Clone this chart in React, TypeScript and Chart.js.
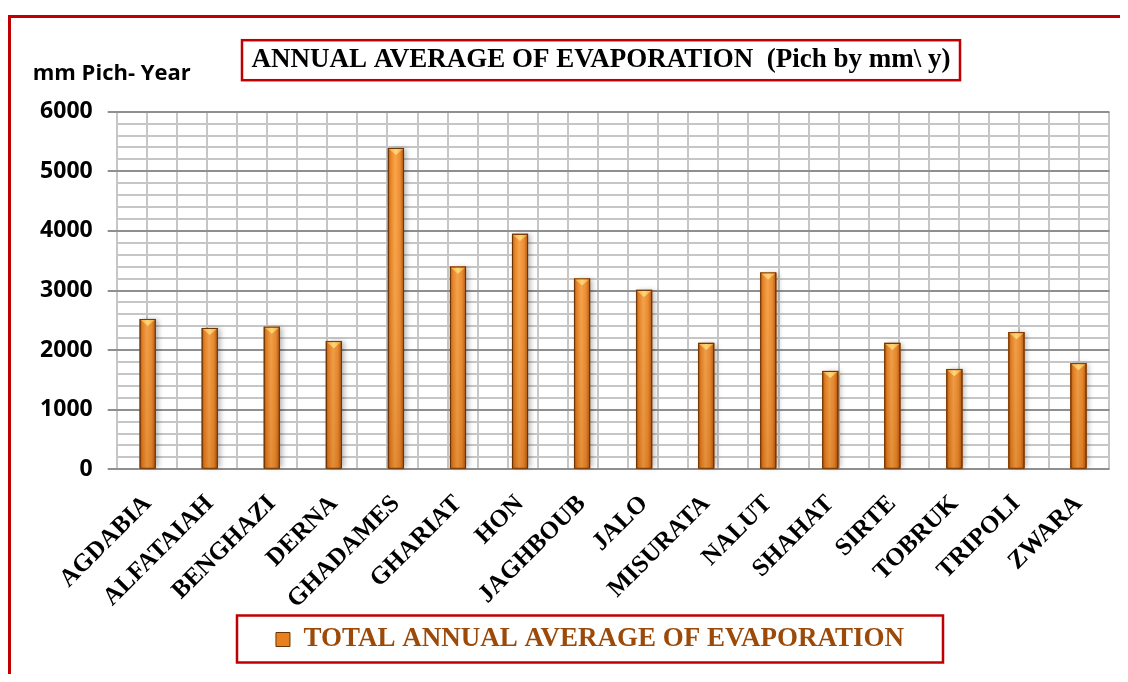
import React, { useEffect, useRef } from "react";
import { Chart, registerables } from "chart.js";

Chart.register(...registerables);

const categories = [
  "AGDABIA", "ALFATAIAH", "BENGHAZI", "DERNA", "GHADAMES", "GHARIAT", "HON", "JAGHBOUB",
  "JALO", "MISURATA", "NALUT", "SHAHAT", "SIRTE", "TOBRUK", "TRIPOLI", "ZWARA",
];
const evaporation = [2520, 2370, 2390, 2150, 5390, 3400, 3950, 3200, 3010, 2120, 3300, 1650, 2120, 1680, 2300, 1780];
const yMajorTicks = [0, 1000, 2000, 3000, 4000, 5000, 6000];
const yMinorStep = 200;
const seriesLabel = "TOTAL ANNUAL AVERAGE OF EVAPORATION";
const chartTitle = "ANNUAL AVERAGE OF EVAPORATION  (Pich by mm\\ y)";
const yAxisTitle = "mm Pich- Year";

const RED = "#c00000";

const decorPlugin = {
  id: "decor",
  afterLayout(chart: any) {
    const t = chart.titleBlock;
    if (t) { t.left += 38.5; t.right += 38.5; }
    const l = chart.legend;
    if (l) { l.left += 27.5; l.right += 27.5; }
  },
  afterDatasetsDraw(chart: any) {
    const ctx = chart.ctx;
    const area = chart.chartArea;
    const meta = chart.getDatasetMeta(0);
    meta.data.forEach((bar: any) => {
      const { x, y, base, width } = bar.getProps(["x", "y", "base", "width"], true);
      const l = x - width / 2;
      const r = x + width / 2;
      const h = base - y;
      ctx.save();
      ctx.shadowColor = "rgba(0,0,0,0.28)";
      ctx.shadowBlur = 5;
      ctx.shadowOffsetX = 3;
      ctx.fillStyle = "#e07a1c";
      ctx.fillRect(l, y, width, h);
      ctx.restore();
      const g = ctx.createLinearGradient(l, 0, r, 0);
      g.addColorStop(0, "#b0550d");
      g.addColorStop(0.18, "#ea821f");
      g.addColorStop(0.45, "#f9a447");
      g.addColorStop(0.75, "#ef8b2a");
      g.addColorStop(1, "#a9520d");
      ctx.fillStyle = g;
      ctx.fillRect(l, y, width, h);
      const v = ctx.createLinearGradient(0, area.top, 0, area.bottom);
      v.addColorStop(0, "rgba(255,255,255,0)");
      v.addColorStop(1, "rgba(120,45,0,0.18)");
      ctx.fillStyle = v;
      ctx.fillRect(l, y, width, h);
      ctx.strokeStyle = "#6a3306";
      ctx.lineWidth = 1;
      ctx.strokeRect(l + 0.5, y + 0.5, width - 1, h - 0.5);
      const tg = ctx.createLinearGradient(l, 0, r, 0);
      tg.addColorStop(0, "#f3a236");
      tg.addColorStop(0.5, "#fdd77a");
      tg.addColorStop(1, "#f0a033");
      ctx.fillStyle = tg;
      ctx.beginPath();
      ctx.moveTo(l + 1, y + 1);
      ctx.lineTo(r - 1, y + 1);
      ctx.lineTo(x, y + 7);
      ctx.closePath();
      ctx.fill();
    });
  },
  afterDraw(chart: any) {
    const ctx = chart.ctx;
    const area = chart.chartArea;
    ctx.save();
    ctx.font = "bold 22px 'Open Sans'";
    ctx.fillStyle = "#000";
    ctx.textAlign = "left";
    ctx.textBaseline = "middle";
    ctx.fillText(yAxisTitle, area.left - 84, area.top - 38);
    ctx.strokeStyle = RED;
    ctx.lineWidth = 2.5;
    const t = chart.titleBlock;
    if (t) {
      const cx = (t.left + t.right) / 2;
      const cy = t.top + 26 + 16.2;
      ctx.strokeRect(cx - 359, cy - 20, 718, 40);
    }
    const l = chart.legend;
    if (l) {
      const cx = (l.left + l.right) / 2;
      const cy = l.top + 23.5;
      ctx.strokeRect(cx - 353, cy - 24, 706, 47);
    }
    ctx.restore();
  },
};

export default function App() {
  const ref = useRef<HTMLCanvasElement>(null);
  useEffect(() => {
    if (!ref.current) return;
    const chart = new Chart(ref.current, {
      type: "bar",
      data: {
        labels: categories,
        datasets: [
          {
            label: seriesLabel,
            data: evaporation,
            backgroundColor: "#e8801f",
            borderColor: "#6a3306",
            borderWidth: 1,
            barThickness: 16,
            xAxisID: "x",
            yAxisID: "y",
          },
        ],
      },
      options: {
        animation: false,
        responsive: false,
        layout: { padding: { top: 0, left: 0, right: 6, bottom: 11 } },
        plugins: {
          title: {
            display: true,
            text: chartTitle,
            color: "#000",
            font: { family: "'Liberation Serif'", weight: "bold", size: 27, lineHeight: 1.2 },
            padding: { top: 26, bottom: 35.3 },
          },
          legend: {
            display: true,
            position: "bottom",
            labels: {
              color: "#9c4a09",
              font: { family: "'Liberation Serif'", weight: "bold", size: 27 },
              boxWidth: 14,
              boxHeight: 14,
              padding: 10,
            },
          },
          tooltip: { enabled: false },
        },
        scales: {
          x: {
            type: "category",
            position: "bottom",
            offset: true,
            grid: { display: false, drawTicks: false },
            border: { display: false },
            ticks: {
              autoSkip: false,
              minRotation: 45,
              maxRotation: 45,
              padding: 20,
              color: "#000",
              font: { family: "'Liberation Serif'", weight: "bold", size: 25 },
            },
            afterFit: (s: any) => { s.height = 146.7; },
          },
          xg: {
            type: "linear",
            position: "top",
            min: 0,
            max: categories.length * 2,
            ticks: { display: false, stepSize: 1, maxTicksLimit: 100 },
            grid: { color: "#c6c6c6", lineWidth: 2, drawTicks: false },
            border: { display: false },
          },
          y: {
            type: "linear",
            min: yMajorTicks[0],
            max: yMajorTicks[yMajorTicks.length - 1],
            ticks: {
              stepSize: yMinorStep,
              maxTicksLimit: 100,
              autoSkip: false,
              padding: 15,
              color: "#000",
              font: { family: "'Open Sans'", weight: "bold", size: 23 },
              callback: (v: any) => (yMajorTicks.includes(Number(v)) ? String(v) : ""),
            },
            grid: {
              color: (c: any) => (c.tick && yMajorTicks.includes(c.tick.value) ? "#8f8f8f" : "#c6c6c6"),
              tickColor: (c: any) => (c.tick && yMajorTicks.includes(c.tick.value) ? "#8f8f8f" : "rgba(0,0,0,0)"),
              lineWidth: 2,
              tickWidth: 2,
              tickLength: 9,
            },
            border: { display: false },
            afterFit: (s: any) => { s.width = 105.7; },
          },
        },
      },
      plugins: [decorPlugin],
    });
    return () => chart.destroy();
  }, []);

  return (
    <div style={{ paddingTop: 7 }}>
      <div
        style={{
          width: 1112,
          height: 659,
          boxSizing: "border-box",
          borderLeft: `3px solid ${RED}`,
          borderTop: `3px solid ${RED}`,
        }}
      >
        <canvas ref={ref} width={1109} height={656} style={{ display: "block" }} />
      </div>
    </div>
  );
}
